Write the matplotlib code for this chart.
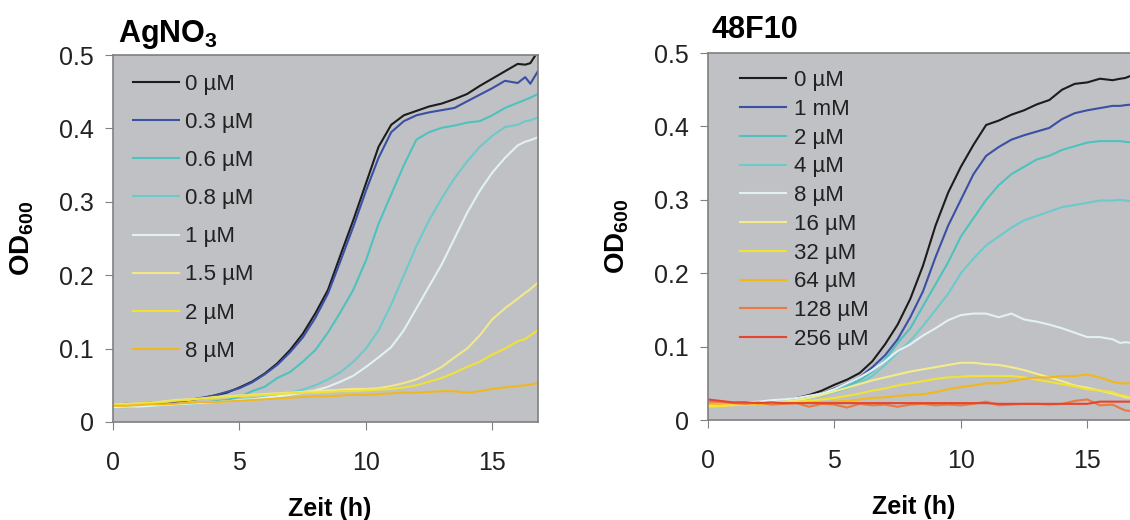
import numpy as np
import matplotlib.pyplot as plt

plt.rcParams['font.family'] = ['Liberation Sans', 'DejaVu Sans']
plt.rcParams['mathtext.fontset'] = 'custom'
plt.rcParams['mathtext.rm'] = 'Liberation Sans'
plt.rcParams['mathtext.bf'] = 'Liberation Sans:bold'

# Zeitpunkte (h), alle 0.5 h
zeit = [0, 0.5, 1, 1.5, 2, 2.5, 3, 3.5, 4, 4.5, 5, 5.5, 6, 6.5, 7, 7.5, 8, 8.5,
        9, 9.5, 10, 10.5, 11, 11.5, 12, 12.5, 13, 13.5, 14, 14.5, 15, 15.5, 16,
        16.3, 16.5, 16.8]

# --- AgNO3 ---
ag_labels = ['0 µM', '0.3 µM', '0.6 µM', '0.8 µM', '1 µM', '1.5 µM', '2 µM', '8 µM']
ag_0 = [0.022, 0.024, 0.023, 0.026, 0.025, 0.028, 0.030, 0.032, 0.036, 0.040, 0.047, 0.055,
        0.066, 0.080, 0.098, 0.120, 0.148, 0.180, 0.228, 0.275, 0.325, 0.375, 0.405, 0.418,
        0.424, 0.430, 0.434, 0.440, 0.447, 0.458, 0.468, 0.478, 0.488, 0.487, 0.489, 0.505]
ag_03 = [0.023, 0.025, 0.024, 0.025, 0.026, 0.028, 0.030, 0.033, 0.036, 0.041, 0.046, 0.054,
         0.065, 0.078, 0.095, 0.115, 0.142, 0.175, 0.220, 0.266, 0.315, 0.360, 0.395, 0.410,
         0.418, 0.422, 0.425, 0.428, 0.437, 0.446, 0.455, 0.465, 0.462, 0.470, 0.461, 0.478]
ag_06 = [0.020, 0.021, 0.022, 0.023, 0.023, 0.024, 0.025, 0.026, 0.028, 0.030, 0.034, 0.042,
         0.048, 0.060, 0.068, 0.082, 0.098, 0.122, 0.150, 0.180, 0.220, 0.270, 0.310, 0.350,
         0.385, 0.395, 0.401, 0.404, 0.408, 0.410, 0.418, 0.428, 0.435, 0.439, 0.442, 0.447]
ag_08 = [0.021, 0.020, 0.022, 0.022, 0.023, 0.024, 0.025, 0.026, 0.027, 0.028, 0.030, 0.032,
         0.034, 0.036, 0.040, 0.044, 0.050, 0.058, 0.068, 0.082, 0.100, 0.125, 0.160, 0.200,
         0.240, 0.275, 0.305, 0.332, 0.355, 0.375, 0.390, 0.402, 0.405, 0.410, 0.411, 0.415]
ag_1 = [0.020, 0.021, 0.021, 0.022, 0.023, 0.024, 0.025, 0.026, 0.027, 0.028, 0.030, 0.031,
        0.033, 0.035, 0.037, 0.040, 0.043, 0.048, 0.055, 0.063, 0.075, 0.088, 0.102, 0.125,
        0.155, 0.185, 0.215, 0.250, 0.285, 0.315, 0.340, 0.360, 0.377, 0.382, 0.384, 0.388]
ag_15 = [0.024, 0.025, 0.025, 0.026, 0.028, 0.030, 0.031, 0.032, 0.034, 0.035, 0.036, 0.037,
         0.038, 0.039, 0.040, 0.041, 0.042, 0.043, 0.044, 0.045, 0.045, 0.046, 0.049, 0.053,
         0.058, 0.066, 0.075, 0.088, 0.100, 0.118, 0.140, 0.155, 0.168, 0.176, 0.181, 0.190]
ag_2 = [0.024, 0.024, 0.025, 0.026, 0.027, 0.029, 0.030, 0.032, 0.033, 0.034, 0.035, 0.036,
        0.037, 0.038, 0.039, 0.040, 0.040, 0.041, 0.042, 0.042, 0.043, 0.044, 0.045, 0.047,
        0.050, 0.055, 0.060, 0.067, 0.075, 0.082, 0.092, 0.100, 0.110, 0.113, 0.118, 0.125]
ag_8 = [0.022, 0.022, 0.023, 0.024, 0.024, 0.025, 0.026, 0.027, 0.027, 0.028, 0.029, 0.030,
        0.031, 0.032, 0.033, 0.034, 0.035, 0.035, 0.036, 0.037, 0.037, 0.038, 0.039, 0.040,
        0.040, 0.041, 0.042, 0.042, 0.040, 0.042, 0.045, 0.047, 0.049, 0.050, 0.051, 0.053]

# --- 48F10 ---
f_labels = ['0 µM', '1 mM', '2 µM', '4 µM', '8 µM', '16 µM', '32 µM', '64 µM', '128 µM', '256 µM']
f_0 = [0.020, 0.022, 0.023, 0.024, 0.023, 0.025, 0.027, 0.030, 0.034, 0.040, 0.048, 0.055,
       0.064, 0.080, 0.103, 0.130, 0.165, 0.210, 0.265, 0.310, 0.345, 0.375, 0.402, 0.408,
       0.416, 0.422, 0.430, 0.436, 0.450, 0.458, 0.460, 0.465, 0.463, 0.465, 0.466, 0.470]
f_1 = [0.020, 0.021, 0.022, 0.023, 0.024, 0.025, 0.026, 0.029, 0.032, 0.036, 0.043, 0.050,
       0.058, 0.072, 0.088, 0.110, 0.140, 0.175, 0.222, 0.265, 0.300, 0.335, 0.360, 0.372,
       0.382, 0.388, 0.393, 0.398, 0.410, 0.418, 0.422, 0.425, 0.428, 0.428, 0.429, 0.430]
f_2 = [0.020, 0.021, 0.022, 0.023, 0.024, 0.025, 0.026, 0.028, 0.030, 0.034, 0.040, 0.046,
       0.054, 0.066, 0.082, 0.105, 0.125, 0.155, 0.185, 0.215, 0.250, 0.275, 0.300, 0.320,
       0.335, 0.345, 0.355, 0.360, 0.368, 0.373, 0.378, 0.380, 0.380, 0.380, 0.379, 0.378]
f_4 = [0.020, 0.021, 0.022, 0.023, 0.024, 0.025, 0.026, 0.028, 0.030, 0.033, 0.038, 0.043,
       0.050, 0.060, 0.075, 0.092, 0.108, 0.128, 0.150, 0.172, 0.200, 0.220, 0.238, 0.250,
       0.262, 0.272, 0.278, 0.284, 0.290, 0.293, 0.296, 0.299, 0.299, 0.300, 0.299, 0.298]
f_8 = [0.021, 0.022, 0.023, 0.024, 0.025, 0.027, 0.028, 0.030, 0.033, 0.036, 0.042, 0.050,
       0.058, 0.068, 0.080, 0.094, 0.103, 0.115, 0.125, 0.136, 0.143, 0.145, 0.145, 0.140,
       0.145, 0.137, 0.134, 0.130, 0.125, 0.119, 0.113, 0.113, 0.110, 0.105, 0.106, 0.105]
f_16 = [0.020, 0.021, 0.022, 0.022, 0.023, 0.024, 0.025, 0.027, 0.030, 0.034, 0.039, 0.044,
        0.049, 0.054, 0.058, 0.062, 0.066, 0.069, 0.072, 0.075, 0.078, 0.078, 0.076, 0.075,
        0.072, 0.068, 0.063, 0.058, 0.053, 0.047, 0.044, 0.040, 0.036, 0.033, 0.031, 0.030]
f_32 = [0.018, 0.019, 0.020, 0.021, 0.022, 0.023, 0.024, 0.025, 0.026, 0.028, 0.030, 0.033,
        0.036, 0.040, 0.043, 0.047, 0.050, 0.053, 0.056, 0.058, 0.059, 0.060, 0.060, 0.060,
        0.060, 0.058, 0.055, 0.052, 0.049, 0.046, 0.042, 0.040, 0.038, 0.034, 0.033, 0.030]
f_64 = [0.022, 0.022, 0.023, 0.023, 0.022, 0.022, 0.023, 0.023, 0.024, 0.024, 0.025, 0.026,
        0.028, 0.030, 0.031, 0.033, 0.034, 0.035, 0.038, 0.042, 0.045, 0.047, 0.050, 0.050,
        0.053, 0.056, 0.058, 0.058, 0.060, 0.060, 0.062, 0.058, 0.052, 0.050, 0.050, 0.050]
f_128 = [0.025, 0.025, 0.023, 0.022, 0.024, 0.021, 0.022, 0.023, 0.018, 0.022, 0.021, 0.017,
         0.022, 0.020, 0.021, 0.018, 0.021, 0.022, 0.020, 0.021, 0.020, 0.022, 0.025, 0.020,
         0.021, 0.022, 0.022, 0.021, 0.022, 0.026, 0.028, 0.020, 0.021, 0.016, 0.013, 0.012]
f_256 = [0.028, 0.026, 0.024, 0.024, 0.023, 0.024, 0.023, 0.023, 0.023, 0.023, 0.023, 0.023,
         0.023, 0.023, 0.023, 0.023, 0.023, 0.023, 0.023, 0.023, 0.023, 0.023, 0.023, 0.022,
         0.022, 0.022, 0.022, 0.022, 0.022, 0.022, 0.022, 0.025, 0.025, 0.025, 0.025, 0.025]

ag_farben = ['#1c1c1c', '#3b4fa3', '#4ec2be', '#6ccaca', '#e2f2f2', '#f2e88a', '#f0e234', '#f0b820']
f_farben = ['#1c1c1c', '#3b4fa3', '#4ec2be', '#6ccaca', '#e2f2f2', '#f4ec8a', '#f2e233',
            '#f2b818', '#ea7a3e', '#e8432e']

ag_daten = [ag_0, ag_03, ag_06, ag_08, ag_1, ag_15, ag_2, ag_8]
f_daten = [f_0, f_1, f_2, f_4, f_8, f_16, f_32, f_64, f_128, f_256]

fig = plt.figure(figsize=(11.3, 5.2), dpi=100)
ax1 = fig.add_axes([0.100, 0.1885, 0.376, 0.7055])
ax2 = fig.add_axes([0.6265, 0.1923, 0.376, 0.7057])


def panel(ax, daten, farben, labels, spacing, anchor, textpad, xlab_x):
    for y, c, lab in zip(daten, farben, labels):
        ax.plot(zeit, y, color=c, lw=1.5, label=lab)
    ax.set_facecolor('#c0c1c5')
    ax.set_xlim(0, 16.8)
    ax.set_ylim(0, 0.5)
    ax.set_xticks([0, 5, 10, 15])
    ax.set_yticks([0, 0.1, 0.2, 0.3, 0.4, 0.5])
    ax.set_yticklabels(['0', '0.1', '0.2', '0.3', '0.4', '0.5'])
    for s in ax.spines.values():
        s.set_color('#808080')
        s.set_linewidth(1.2)
    ax.tick_params(axis='both', direction='out', length=6, color='#808080',
                   labelsize=18, labelcolor='#222222')
    ax.tick_params(axis='x', pad=15)
    ax.tick_params(axis='y', pad=8)
    ax.set_xlabel('Zeit (h)', fontsize=18, fontweight='bold')
    ax.xaxis.set_label_coords(xlab_x, -0.205)
    ax.set_ylabel('OD$_\\mathbf{600}$', fontsize=20, fontweight='bold', labelpad=16)
    leg = ax.legend(loc='upper left', bbox_to_anchor=anchor, frameon=False,
                    fontsize=16, handlelength=2.07, handletextpad=textpad,
                    labelspacing=spacing, borderaxespad=0)
    for t in leg.get_texts():
        t.set_color('#222222')


panel(ax1, ag_daten, ag_farben, ag_labels, 0.77, (0.026, 0.973), 0.27, 0.51)
panel(ax2, f_daten, f_farben, f_labels, 0.35, (0.054, 0.978), 0.36, 0.485)

fig.text(0.104, 0.919, 'AgNO$_\\mathbf{3}$', fontsize=22, fontweight='bold')
fig.text(0.630, 0.927, '48F10', fontsize=22, fontweight='bold')

fig.savefig('out.png', dpi=100)
